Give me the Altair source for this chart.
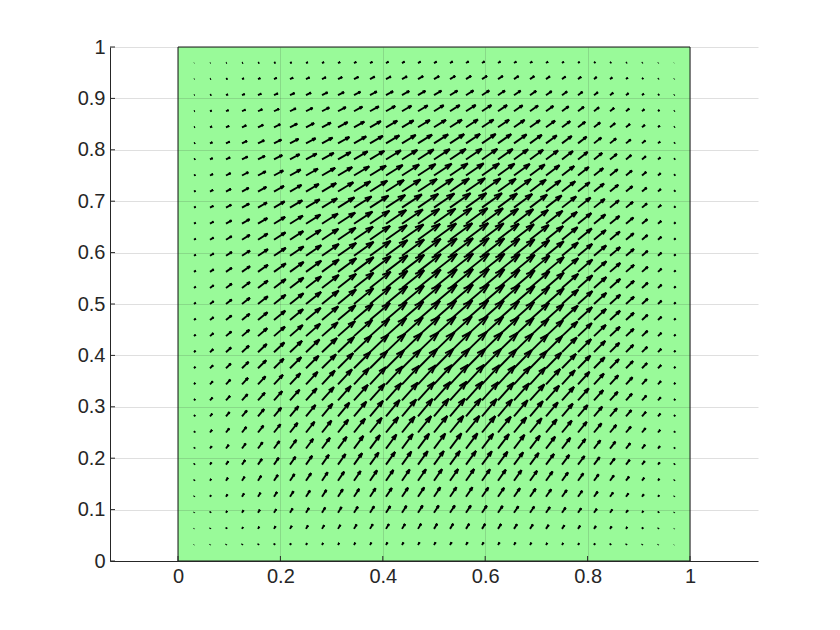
import math
import altair as alt
import pandas as pd

# grid positions of the arrow tails (same in x and y)
GRID = [0.03125, 0.0625, 0.09375, 0.125, 0.15625, 0.1875, 0.21875, 0.25,
        0.28125, 0.3125, 0.34375, 0.375, 0.40625, 0.4375, 0.46875, 0.5,
        0.53125, 0.5625, 0.59375, 0.625, 0.65625, 0.6875, 0.71875, 0.75,
        0.78125, 0.8125, 0.84375, 0.875, 0.90625, 0.9375, 0.96875]

# relative arrow length profile along x (left -> right)
MAG_X = [0.07, 0.15, 0.24, 0.33, 0.41, 0.49, 0.57, 0.64, 0.71, 0.77, 0.83,
         0.88, 0.92, 0.95, 0.98, 0.99, 1.00, 1.00, 0.98, 0.95, 0.91, 0.86,
         0.79, 0.72, 0.64, 0.55, 0.46, 0.36, 0.26, 0.16, 0.07]
# relative arrow length profile along y (bottom -> top)
MAG_Y = [0.10, 0.20, 0.29, 0.38, 0.47, 0.56, 0.63, 0.71, 0.77, 0.83, 0.88,
         0.92, 0.96, 0.98, 0.99, 1.00, 0.99, 0.98, 0.96, 0.92, 0.88, 0.83,
         0.77, 0.71, 0.63, 0.56, 0.47, 0.38, 0.29, 0.20, 0.10]
# arrow direction (degrees from +x) in the middle column, per row (bottom -> top)
ANGLE_ROW = [59, 58, 57, 56, 55, 54, 53, 51, 50, 48, 47, 45, 44, 42, 41, 40,
             39, 38, 37, 36, 35, 34.5, 34, 33.5, 33, 32.5, 32, 31.5, 31, 30.5, 30]
# change of direction from left edge to right edge (half of it each side), per row
TILT_ROW = [-3, -3, -3, -2.5, -2, -2, -1.5, -1, -0.5, 0, 0.5, 1, 1.5, 2, 2.5,
            3, 3.5, 4, 5, 5.5, 6, 7, 7.5, 8, 8.5, 9, 9.5, 10, 10, 10.5, 11]
MAX_LEN = 0.059      # longest arrow, data units
HEAD_LEN = 0.33
HEAD_W = 0.30

X_TICKS = [0, 0.2, 0.4, 0.6, 0.8, 1]
Y_TICKS = [0, 0.1, 0.2, 0.3, 0.4, 0.5, 0.6, 0.7, 0.8, 0.9, 1]
X_DOMAIN = [-0.1328, 1.1328]
Y_DOMAIN = [0, 1]

segs = []
for j, y0 in enumerate(GRID):
    for i, x0 in enumerate(GRID):
        m = MAX_LEN * MAG_X[i] * MAG_Y[j]
        a = math.radians(ANGLE_ROW[j] + TILT_ROW[j] * (x0 - 0.5) * 2)
        u, v = m * math.cos(a), m * math.sin(a)
        xt, yt = x0 + u, y0 + v
        segs.append({"x": x0, "y": y0, "x2": xt, "y2": yt})
        for s in (1, -1):
            bx = xt - HEAD_LEN * (u + s * HEAD_W * v)
            by = yt - HEAD_LEN * (v - s * HEAD_W * u)
            segs.append({"x": xt, "y": yt, "x2": bx, "y2": by})
seg_df = pd.DataFrame(segs)

W, H = 648, 514
LABEL_FONT = "Liberation Sans"
LABEL_SIZE = 20
INK = "#262626"

xscale = alt.Scale(domain=X_DOMAIN, nice=False, zero=False)
yscale = alt.Scale(domain=Y_DOMAIN, nice=False, zero=False)
xaxis = alt.Axis(values=X_TICKS, format="~g", title=None, grid=True, ticks=False,
                 labelPadding=5, zindex=1)
yaxis = alt.Axis(values=Y_TICKS, format="~g", title=None, grid=True, ticks=False,
                 labelPadding=5, zindex=1)

patch = alt.Chart(pd.DataFrame({"x": [0], "x2": [1], "y": [0], "y2": [1]})).mark_rect(
    fill="#99fa99", stroke="#1a1a1a", strokeWidth=1
).encode(
    x=alt.X("x:Q", scale=xscale, axis=xaxis),
    x2="x2:Q",
    y=alt.Y("y:Q", scale=yscale, axis=yaxis),
    y2="y2:Q",
)

arrows = alt.Chart(seg_df).mark_rule(color="black", strokeWidth=1.9).encode(
    x=alt.X("x:Q", scale=xscale, axis=xaxis),
    x2="x2:Q",
    y=alt.Y("y:Q", scale=yscale, axis=yaxis),
    y2="y2:Q",
)

xt_layer = alt.Chart(pd.DataFrame({"t": X_TICKS})).mark_rule(
    color=INK, strokeWidth=1
).encode(
    x=alt.X("t:Q", scale=xscale, axis=xaxis),
    y=alt.value(H), y2=alt.value(H - 5),
)
yt_layer = alt.Chart(pd.DataFrame({"t": Y_TICKS})).mark_rule(
    color=INK, strokeWidth=1
).encode(
    y=alt.Y("t:Q", scale=yscale, axis=yaxis),
    x=alt.value(0), x2=alt.value(5),
)

chart = alt.layer(patch, arrows, xt_layer, yt_layer).properties(
    width=W, height=H,
    autosize=alt.AutoSizeParams(type="none"),
    padding={"left": 102, "top": 39, "right": 70, "bottom": 60},
).configure_view(stroke=None).configure_axis(
    labelFont=LABEL_FONT, labelFontSize=LABEL_SIZE, labelColor=INK,
    domainColor=INK, gridColor=INK, gridOpacity=0.15,
)

chart.save("out.html", embed_options={"renderer": "svg", "actions": False})
